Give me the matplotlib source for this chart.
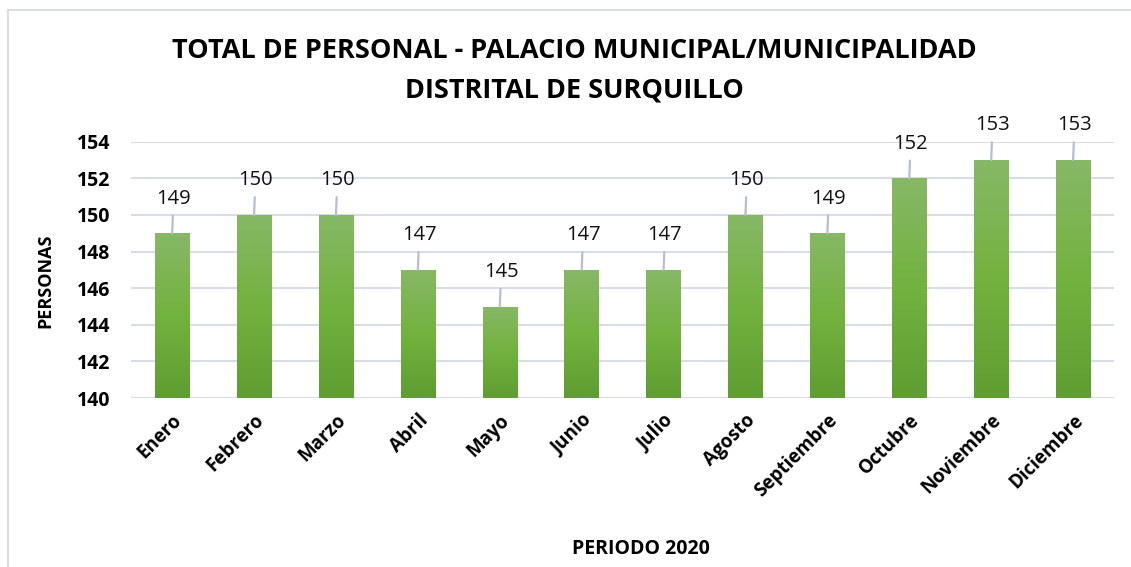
import numpy as np
import matplotlib.pyplot as plt
from matplotlib.colors import LinearSegmentedColormap

# Data
meses = ['Enero', 'Febrero', 'Marzo', 'Abril', 'Mayo', 'Junio', 'Julio',
         'Agosto', 'Septiembre', 'Octubre', 'Noviembre', 'Diciembre']
personal = [149, 150, 150, 147, 145, 147, 147, 150, 149, 152, 153, 153]
y_ticks = [140, 142, 144, 146, 148, 150, 152, 154]

plt.rcParams['font.family'] = ['Open Sans', 'DejaVu Sans']

fig = plt.figure(figsize=(11.31, 5.67), dpi=100)
ax = fig.add_axes([0.116, 0.298, 0.869, 0.452])

x = np.arange(len(meses))
bars = ax.bar(x, personal, width=0.42, color='none', zorder=3)
ax.set_xlim(-0.5, len(meses) - 0.5)
ax.set_ylim(140, 154)

# vertical gradient fill for each bar (lighter at the top)
cmap = LinearSegmentedColormap.from_list('verde', ['#5E9E32', '#72B23E', '#87B867'])
grad = np.linspace(0, 1, 256).reshape(-1, 1)
for b in bars:
    x0, y0 = b.get_x(), b.get_y()
    w, h = b.get_width(), b.get_height()
    im = ax.imshow(grad, cmap=cmap, origin='lower', aspect='auto',
                   extent=[x0, x0 + w, 140, y0 + h], zorder=3)
    im.set_clip_path(b)

# data labels with leader lines
for xi, v in zip(x, personal):
    ax.annotate(str(v), xy=(xi, v), xytext=(1, 25), textcoords='offset points',
                ha='center', va='center', fontsize=14.5, color='#111111',
                annotation_clip=False,
                arrowprops=dict(arrowstyle='-', color='#B4C0D0', lw=1.6,
                                shrinkA=3, shrinkB=0))

ax.set_yticks(y_ticks)
ax.set_yticklabels([str(t) for t in y_ticks], fontsize=14, fontweight='bold')
ax.set_xticks(x)
ax.set_xticklabels(meses, rotation=45, ha='right', rotation_mode='anchor',
                   fontsize=13.5, fontweight='bold')
ax.tick_params(axis='both', length=0)
ax.tick_params(axis='y', pad=15)
ax.tick_params(axis='x', pad=9)
ax.grid(axis='y', color='#D9DEE6', lw=1.5, zorder=0)
ax.set_axisbelow(True)
for s in ax.spines.values():
    s.set_visible(False)

fig.text(0.508, 0.91, 'TOTAL DE PERSONAL - PALACIO MUNICIPAL/MUNICIPALIDAD',
         ha='center', va='center', fontsize=19.5, fontweight='bold')
fig.text(0.508, 0.84, 'DISTRITAL DE SURQUILLO',
         ha='center', va='center', fontsize=19.5, fontweight='bold')
fig.text(0.567, 0.032, 'PERIODO 2020', ha='center', va='center',
         fontsize=14, fontweight='bold')
fig.text(0.040, 0.504, 'PERSONAS', ha='center', va='center', rotation=90,
         fontsize=13, fontweight='bold')

# light frame of the chart area (left and top edges visible)
fig.add_artist(plt.Line2D([0.0075, 0.0075], [0.0, 0.982], color='#D9DEE6', lw=1.5))
fig.add_artist(plt.Line2D([0.0075, 1.0], [0.982, 0.982], color='#D9DEE6', lw=1.5))

fig.savefig('out.png', dpi=100)
